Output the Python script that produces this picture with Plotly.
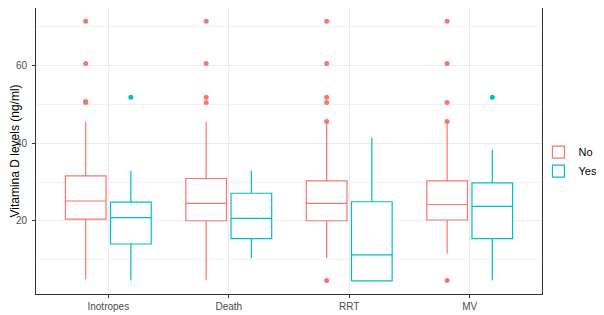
import plotly.graph_objects as go

categories = ["Inotropes", "Death", "RRT", "MV"]
groups = ["No", "Yes"]

no_q1 = [20.4, 20.0, 20.0, 20.2]
no_median = [25.1, 24.5, 24.5, 24.2]
no_q3 = [31.6, 30.9, 30.3, 30.3]
no_lower = [4.9, 4.6, 10.3, 11.5]
no_upper = [45.6, 45.6, 45.5, 45.5]
no_outliers = [
    [71.5, 60.6, 50.5, 50.8],
    [71.5, 60.6, 51.9, 50.5],
    [71.5, 60.6, 51.9, 50.5, 45.6, 4.6],
    [71.5, 60.6, 50.5, 45.6, 4.6],
]

yes_q1 = [14.0, 15.4, 4.5, 15.4]
yes_median = [20.8, 20.6, 11.2, 23.7]
yes_q3 = [24.8, 27.1, 24.9, 29.8]
yes_lower = [4.6, 10.3, 4.5, 4.6]
yes_upper = [32.9, 32.9, 41.5, 38.3]
yes_outliers = [[51.9], [], [], [51.9]]

colors = {"No": "#F8766D", "Yes": "#00BFC4"}

fig = go.Figure()
series = {
    "No": (no_q1, no_median, no_q3, no_lower, no_upper, no_outliers),
    "Yes": (yes_q1, yes_median, yes_q3, yes_lower, yes_upper, yes_outliers),
}
for g in groups:
    q1, med, q3, lo, hi, outs = series[g]
    fig.add_trace(go.Box(
        name=g,
        x=categories,
        y=outs,
        q1=q1, median=med, q3=q3, lowerfence=lo, upperfence=hi,
        boxpoints="outliers",
        jitter=0, pointpos=0,
        fillcolor="white",
        line=dict(color=colors[g], width=1.2),
        marker=dict(color=colors[g], size=5, line=dict(width=0)),
        whiskerwidth=0,
    ))

# the page body adds an 8px offset, so the figure is sized to fit the rest of the window
fig.update_layout(
    width=596, height=307,
    margin=dict(l=28, r=62, t=0, b=21, autoexpand=False),
    paper_bgcolor="white", plot_bgcolor="white",
    boxmode="group", boxgap=0.25, boxgroupgap=0.1,
    font=dict(family="Liberation Sans, Arial, sans-serif", size=10, color="#4D4D4D"),
    legend=dict(x=0.993, xanchor="left", y=0.463, yanchor="middle",
                bgcolor="rgba(0,0,0,0)",
                font=dict(size=11, color="black"), tracegroupgap=2),
    showlegend=True,
)
fig.update_xaxes(
    type="category", range=[-0.6, 3.6], automargin=False,
    showgrid=True, gridcolor="#EBEBEB", gridwidth=0.8,
    showline=True, linecolor="#333333", linewidth=1, mirror=True,
    ticks="outside", ticklen=3, tickcolor="#333333",
    tickfont=dict(size=10, color="#4D4D4D"), zeroline=False,
)
fig.update_yaxes(
    range=[1.1, 74.9], tickvals=[20, 40, 60], automargin=False,
    showgrid=True, gridcolor="#EBEBEB", gridwidth=0.8,
    minor=dict(tickvals=[10, 30, 50, 70], showgrid=True, gridcolor="#F2F2F2", gridwidth=0.6),
    showline=True, linecolor="#333333", linewidth=1, mirror=True,
    ticks="outside", ticklen=3, tickcolor="#333333", ticklabelstandoff=3,
    tickfont=dict(size=10, color="#4D4D4D"), zeroline=False,
    title=dict(text="Vitamina D levels (ng/ml)", font=dict(size=12, color="black"), standoff=3),
)

fig.write_html("out.html")
